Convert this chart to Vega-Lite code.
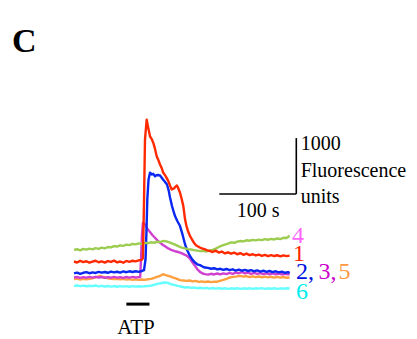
{
  "$schema": "https://vega.github.io/schema/vega-lite/v6.json",
  "width": 417,
  "height": 339,
  "autosize": {"type": "fit", "contains": "padding"},
  "padding": 0,
  "background": "white",
  "config": {"view": {"stroke": null}, "text": {"font": "'Liberation Serif', 'DejaVu Serif', serif"}},
  "datasets": {
    "traces": [
      {"c":"6","t":0,"f":934},{"c":"6","t":4,"f":940},{"c":"6","t":8,"f":928},{"c":"6","t":12,"f":938},{"c":"6","t":16,"f":926},{"c":"6","t":20,"f":936},{"c":"6","t":24,"f":930},{"c":"6","t":28,"f":940},{"c":"6","t":32,"f":925},{"c":"6","t":36,"f":934},{"c":"6","t":40,"f":922},{"c":"6","t":44,"f":932},{"c":"6","t":48,"f":920},{"c":"6","t":52,"f":930},{"c":"6","t":56,"f":918},{"c":"6","t":60,"f":928},{"c":"6","t":64,"f":920},{"c":"6","t":68,"f":930},{"c":"6","t":72,"f":918},{"c":"6","t":76,"f":928},{"c":"6","t":80,"f":920},{"c":"6","t":84,"f":926},{"c":"6","t":88,"f":920},{"c":"6","t":92,"f":928},{"c":"6","t":96,"f":932},{"c":"6","t":98.7,"f":934},{"c":"6","t":102,"f":945},{"c":"6","t":106,"f":960},{"c":"6","t":110,"f":975},{"c":"6","t":114,"f":985},{"c":"6","t":118.2,"f":995},{"c":"6","t":122,"f":985},{"c":"6","t":126,"f":965},{"c":"6","t":131.2,"f":946},{"c":"6","t":136,"f":930},{"c":"6","t":140,"f":918},{"c":"6","t":144.2,"f":905},{"c":"6","t":148,"f":910},{"c":"6","t":152,"f":898},{"c":"6","t":156,"f":905},{"c":"6","t":160,"f":892},{"c":"6","t":164,"f":900},{"c":"6","t":168,"f":888},{"c":"6","t":172,"f":898},{"c":"6","t":176,"f":885},{"c":"6","t":180,"f":895},{"c":"6","t":184,"f":884},{"c":"6","t":188,"f":894},{"c":"6","t":192,"f":882},{"c":"6","t":196,"f":892},{"c":"6","t":200,"f":880},{"c":"6","t":204,"f":890},{"c":"6","t":208,"f":882},{"c":"6","t":212,"f":892},{"c":"6","t":216,"f":880},{"c":"6","t":220,"f":890},{"c":"6","t":224,"f":882},{"c":"6","t":228,"f":892},{"c":"6","t":232,"f":880},{"c":"6","t":236,"f":890},{"c":"6","t":240,"f":884},{"c":"6","t":244,"f":894},{"c":"6","t":248,"f":880},{"c":"6","t":252,"f":890},{"c":"6","t":256,"f":882},{"c":"6","t":260,"f":892},{"c":"6","t":264,"f":880},{"c":"6","t":268,"f":890},{"c":"6","t":272,"f":884},{"c":"6","t":276,"f":892},{"c":"6","t":280,"f":886},
      {"c":"5","t":0,"f":1054},{"c":"5","t":4,"f":1062},{"c":"5","t":8,"f":1048},{"c":"5","t":12,"f":1060},{"c":"5","t":16,"f":1050},{"c":"5","t":20,"f":1058},{"c":"5","t":24,"f":1070},{"c":"5","t":28,"f":1085},{"c":"5","t":30,"f":1095},{"c":"5","t":33.8,"f":1113},{"c":"5","t":36,"f":1098},{"c":"5","t":40.3,"f":1084},{"c":"5","t":44,"f":1070},{"c":"5","t":48,"f":1062},{"c":"5","t":52,"f":1055},{"c":"5","t":56,"f":1062},{"c":"5","t":60,"f":1050},{"c":"5","t":64,"f":1058},{"c":"5","t":68,"f":1045},{"c":"5","t":72,"f":1055},{"c":"5","t":76,"f":1042},{"c":"5","t":80,"f":1050},{"c":"5","t":84,"f":1040},{"c":"5","t":88,"f":1048},{"c":"5","t":92,"f":1040},{"c":"5","t":96,"f":1052},{"c":"5","t":100,"f":1060},{"c":"5","t":104,"f":1075},{"c":"5","t":108,"f":1095},{"c":"5","t":111.7,"f":1113},{"c":"5","t":115.6,"f":1143},{"c":"5","t":118,"f":1130},{"c":"5","t":121,"f":1118},{"c":"5","t":124.7,"f":1102},{"c":"5","t":128,"f":1085},{"c":"5","t":132,"f":1068},{"c":"5","t":137.7,"f":1036},{"c":"5","t":142,"f":1030},{"c":"5","t":146,"f":1022},{"c":"5","t":150,"f":1030},{"c":"5","t":154,"f":1015},{"c":"5","t":158,"f":1022},{"c":"5","t":162,"f":1005},{"c":"5","t":166,"f":1015},{"c":"5","t":170,"f":1002},{"c":"5","t":174,"f":1012},{"c":"5","t":178,"f":1000},{"c":"5","t":182,"f":1010},{"c":"5","t":186,"f":1008},{"c":"5","t":189.6,"f":1023},{"c":"5","t":194,"f":1040},{"c":"5","t":198,"f":1060},{"c":"5","t":202.6,"f":1084},{"c":"5","t":206,"f":1095},{"c":"5","t":210,"f":1100},{"c":"5","t":215.6,"f":1113},{"c":"5","t":220,"f":1098},{"c":"5","t":224,"f":1110},{"c":"5","t":228,"f":1092},{"c":"5","t":232,"f":1105},{"c":"5","t":236,"f":1090},{"c":"5","t":240,"f":1102},{"c":"5","t":244,"f":1088},{"c":"5","t":248,"f":1100},{"c":"5","t":252,"f":1085},{"c":"5","t":256,"f":1096},{"c":"5","t":260,"f":1082},{"c":"5","t":264,"f":1094},{"c":"5","t":268,"f":1080},{"c":"5","t":272,"f":1092},{"c":"5","t":276,"f":1078},{"c":"5","t":280,"f":1084},
      {"c":"3","t":0,"f":1084},{"c":"3","t":4,"f":1092},{"c":"3","t":8,"f":1078},{"c":"3","t":12,"f":1090},{"c":"3","t":16,"f":1080},{"c":"3","t":20,"f":1094},{"c":"3","t":24,"f":1082},{"c":"3","t":28,"f":1096},{"c":"3","t":32,"f":1084},{"c":"3","t":36,"f":1092},{"c":"3","t":40,"f":1078},{"c":"3","t":44,"f":1090},{"c":"3","t":48,"f":1080},{"c":"3","t":52,"f":1094},{"c":"3","t":56,"f":1082},{"c":"3","t":60,"f":1090},{"c":"3","t":64,"f":1078},{"c":"3","t":68,"f":1092},{"c":"3","t":72,"f":1080},{"c":"3","t":76,"f":1094},{"c":"3","t":80,"f":1084},{"c":"3","t":84,"f":1090},{"c":"3","t":86,"f":1090},{"c":"3","t":87,"f":1411},{"c":"3","t":88.3,"f":1857},{"c":"3","t":89.6,"f":2066},{"c":"3","t":92.2,"f":2036},{"c":"3","t":95,"f":1960},{"c":"3","t":98.7,"f":1898},{"c":"3","t":102,"f":1840},{"c":"3","t":105.2,"f":1795},{"c":"3","t":108,"f":1750},{"c":"3","t":111.7,"f":1709},{"c":"3","t":115,"f":1670},{"c":"3","t":118.2,"f":1643},{"c":"3","t":121,"f":1615},{"c":"3","t":124.7,"f":1589},{"c":"3","t":128,"f":1570},{"c":"3","t":131.2,"f":1554},{"c":"3","t":134,"f":1545},{"c":"3","t":137.7,"f":1530},{"c":"3","t":141,"f":1510},{"c":"3","t":144,"f":1490},{"c":"3","t":146.8,"f":1470},{"c":"3","t":150.6,"f":1423},{"c":"3","t":153,"f":1370},{"c":"3","t":157.1,"f":1291},{"c":"3","t":160,"f":1235},{"c":"3","t":163.6,"f":1184},{"c":"3","t":167,"f":1155},{"c":"3","t":170.1,"f":1143},{"c":"3","t":174,"f":1135},{"c":"3","t":178,"f":1150},{"c":"3","t":182,"f":1138},{"c":"3","t":186,"f":1155},{"c":"3","t":190,"f":1140},{"c":"3","t":194,"f":1158},{"c":"3","t":198,"f":1145},{"c":"3","t":202,"f":1165},{"c":"3","t":206,"f":1150},{"c":"3","t":210,"f":1172},{"c":"3","t":214,"f":1160},{"c":"3","t":218,"f":1178},{"c":"3","t":222,"f":1158},{"c":"3","t":226,"f":1170},{"c":"3","t":230,"f":1150},{"c":"3","t":234,"f":1166},{"c":"3","t":238,"f":1148},{"c":"3","t":242,"f":1162},{"c":"3","t":246,"f":1145},{"c":"3","t":250,"f":1160},{"c":"3","t":254,"f":1142},{"c":"3","t":258,"f":1156},{"c":"3","t":262,"f":1140},{"c":"3","t":266,"f":1152},{"c":"3","t":270,"f":1138},{"c":"3","t":274,"f":1150},{"c":"3","t":278,"f":1140},{"c":"3","t":280,"f":1145},
      {"c":"2","t":0,"f":1158},{"c":"2","t":4,"f":1172},{"c":"2","t":8,"f":1150},{"c":"2","t":12,"f":1168},{"c":"2","t":16,"f":1180},{"c":"2","t":20,"f":1160},{"c":"2","t":24,"f":1175},{"c":"2","t":28,"f":1165},{"c":"2","t":32,"f":1185},{"c":"2","t":36,"f":1170},{"c":"2","t":40,"f":1182},{"c":"2","t":44,"f":1168},{"c":"2","t":48,"f":1190},{"c":"2","t":52,"f":1175},{"c":"2","t":56,"f":1186},{"c":"2","t":60,"f":1172},{"c":"2","t":64,"f":1192},{"c":"2","t":68,"f":1178},{"c":"2","t":72,"f":1195},{"c":"2","t":76,"f":1182},{"c":"2","t":80,"f":1196},{"c":"2","t":84,"f":1185},{"c":"2","t":88,"f":1200},{"c":"2","t":90.9,"f":1214},{"c":"2","t":92.9,"f":1411},{"c":"2","t":94.2,"f":1946},{"c":"2","t":95.2,"f":2482},{"c":"2","t":96.8,"f":2839},{"c":"2","t":98.7,"f":2959},{"c":"2","t":101.3,"f":2929},{"c":"2","t":103,"f":2940},{"c":"2","t":105.2,"f":2898},{"c":"2","t":107,"f":2915},{"c":"2","t":109.1,"f":2920},{"c":"2","t":111.7,"f":2911},{"c":"2","t":113.5,"f":2880},{"c":"2","t":115.6,"f":2839},{"c":"2","t":118,"f":2800},{"c":"2","t":120.8,"f":2750},{"c":"2","t":123,"f":2640},{"c":"2","t":124.7,"f":2518},{"c":"2","t":127.3,"f":2362},{"c":"2","t":129,"f":2280},{"c":"2","t":131.2,"f":2184},{"c":"2","t":134,"f":2100},{"c":"2","t":137.7,"f":2005},{"c":"2","t":141,"f":1850},{"c":"2","t":144.2,"f":1679},{"c":"2","t":147,"f":1570},{"c":"2","t":150.6,"f":1470},{"c":"2","t":154,"f":1400},{"c":"2","t":157.1,"f":1352},{"c":"2","t":160,"f":1320},{"c":"2","t":163.6,"f":1304},{"c":"2","t":167,"f":1280},{"c":"2","t":170.1,"f":1262},{"c":"2","t":174,"f":1255},{"c":"2","t":178,"f":1240},{"c":"2","t":182,"f":1250},{"c":"2","t":186,"f":1228},{"c":"2","t":190,"f":1240},{"c":"2","t":194,"f":1220},{"c":"2","t":198,"f":1236},{"c":"2","t":202,"f":1215},{"c":"2","t":206,"f":1230},{"c":"2","t":210,"f":1208},{"c":"2","t":214,"f":1225},{"c":"2","t":218,"f":1205},{"c":"2","t":222,"f":1220},{"c":"2","t":226,"f":1200},{"c":"2","t":230,"f":1215},{"c":"2","t":234,"f":1195},{"c":"2","t":238,"f":1210},{"c":"2","t":242,"f":1190},{"c":"2","t":246,"f":1205},{"c":"2","t":250,"f":1185},{"c":"2","t":254,"f":1200},{"c":"2","t":258,"f":1180},{"c":"2","t":262,"f":1195},{"c":"2","t":266,"f":1175},{"c":"2","t":270,"f":1188},{"c":"2","t":274,"f":1168},{"c":"2","t":278,"f":1180},{"c":"2","t":280,"f":1162},
      {"c":"4","t":0,"f":1577},{"c":"4","t":4,"f":1590},{"c":"4","t":8,"f":1570},{"c":"4","t":12,"f":1595},{"c":"4","t":16,"f":1582},{"c":"4","t":20,"f":1600},{"c":"4","t":24,"f":1588},{"c":"4","t":28,"f":1610},{"c":"4","t":32,"f":1596},{"c":"4","t":36,"f":1618},{"c":"4","t":40,"f":1605},{"c":"4","t":44,"f":1630},{"c":"4","t":48,"f":1622},{"c":"4","t":52,"f":1645},{"c":"4","t":56,"f":1638},{"c":"4","t":60,"f":1660},{"c":"4","t":64,"f":1650},{"c":"4","t":68,"f":1672},{"c":"4","t":72,"f":1664},{"c":"4","t":76,"f":1684},{"c":"4","t":80,"f":1676},{"c":"4","t":84,"f":1695},{"c":"4","t":88,"f":1686},{"c":"4","t":92,"f":1704},{"c":"4","t":96,"f":1698},{"c":"4","t":100,"f":1714},{"c":"4","t":104,"f":1705},{"c":"4","t":108,"f":1724},{"c":"4","t":112,"f":1718},{"c":"4","t":116,"f":1740},{"c":"4","t":120,"f":1730},{"c":"4","t":124,"f":1712},{"c":"4","t":128,"f":1690},{"c":"4","t":132,"f":1668},{"c":"4","t":136,"f":1640},{"c":"4","t":140,"f":1618},{"c":"4","t":144,"f":1605},{"c":"4","t":148,"f":1592},{"c":"4","t":152,"f":1584},{"c":"4","t":156,"f":1575},{"c":"4","t":160,"f":1566},{"c":"4","t":164,"f":1555},{"c":"4","t":168,"f":1562},{"c":"4","t":172,"f":1550},{"c":"4","t":176,"f":1565},{"c":"4","t":180,"f":1578},{"c":"4","t":184,"f":1600},{"c":"4","t":188,"f":1630},{"c":"4","t":192,"f":1655},{"c":"4","t":196,"f":1672},{"c":"4","t":200,"f":1690},{"c":"4","t":204,"f":1712},{"c":"4","t":208,"f":1705},{"c":"4","t":212,"f":1726},{"c":"4","t":216,"f":1738},{"c":"4","t":220,"f":1730},{"c":"4","t":224,"f":1750},{"c":"4","t":228,"f":1742},{"c":"4","t":232,"f":1758},{"c":"4","t":236,"f":1748},{"c":"4","t":240,"f":1762},{"c":"4","t":244,"f":1752},{"c":"4","t":248,"f":1770},{"c":"4","t":252,"f":1760},{"c":"4","t":256,"f":1775},{"c":"4","t":260,"f":1765},{"c":"4","t":264,"f":1782},{"c":"4","t":268,"f":1770},{"c":"4","t":272,"f":1795},{"c":"4","t":276,"f":1790},{"c":"4","t":280,"f":1830},
      {"c":"1","t":0,"f":1370},{"c":"1","t":4,"f":1352},{"c":"1","t":8,"f":1381},{"c":"1","t":12,"f":1360},{"c":"1","t":16,"f":1375},{"c":"1","t":20,"f":1349},{"c":"1","t":24,"f":1368},{"c":"1","t":28,"f":1384},{"c":"1","t":32,"f":1357},{"c":"1","t":36,"f":1372},{"c":"1","t":40,"f":1350},{"c":"1","t":44,"f":1378},{"c":"1","t":48,"f":1362},{"c":"1","t":52,"f":1385},{"c":"1","t":56,"f":1355},{"c":"1","t":60,"f":1370},{"c":"1","t":64,"f":1348},{"c":"1","t":68,"f":1380},{"c":"1","t":72,"f":1365},{"c":"1","t":76,"f":1384},{"c":"1","t":80,"f":1372},{"c":"1","t":84,"f":1390},{"c":"1","t":88,"f":1400},{"c":"1","t":89.5,"f":1430},{"c":"1","t":91,"f":2500},{"c":"1","t":92.2,"f":3554},{"c":"1","t":94.4,"f":3911},{"c":"1","t":96.1,"f":3786},{"c":"1","t":98.7,"f":3612},{"c":"1","t":101,"f":3560},{"c":"1","t":103,"f":3495},{"c":"1","t":105,"f":3400},{"c":"1","t":107.4,"f":3255},{"c":"1","t":109.5,"f":3190},{"c":"1","t":111.7,"f":3107},{"c":"1","t":114,"f":3040},{"c":"1","t":116,"f":2959},{"c":"1","t":119,"f":2900},{"c":"1","t":122.5,"f":2809},{"c":"1","t":125,"f":2720},{"c":"1","t":126.9,"f":2661},{"c":"1","t":129.9,"f":2679},{"c":"1","t":133.4,"f":2732},{"c":"1","t":135,"f":2696},{"c":"1","t":137.7,"f":2602},{"c":"1","t":140,"f":2480},{"c":"1","t":142,"f":2362},{"c":"1","t":144.2,"f":2125},{"c":"1","t":146,"f":2010},{"c":"1","t":148.1,"f":1911},{"c":"1","t":150.5,"f":1830},{"c":"1","t":153.2,"f":1768},{"c":"1","t":156,"f":1700},{"c":"1","t":158.4,"f":1661},{"c":"1","t":161,"f":1640},{"c":"1","t":163.6,"f":1620},{"c":"1","t":167,"f":1600},{"c":"1","t":170.1,"f":1589},{"c":"1","t":173,"f":1570},{"c":"1","t":176.6,"f":1559},{"c":"1","t":180,"f":1540},{"c":"1","t":184,"f":1565},{"c":"1","t":188,"f":1530},{"c":"1","t":192,"f":1548},{"c":"1","t":196,"f":1515},{"c":"1","t":200,"f":1535},{"c":"1","t":204,"f":1510},{"c":"1","t":208,"f":1528},{"c":"1","t":212,"f":1500},{"c":"1","t":216,"f":1520},{"c":"1","t":220,"f":1490},{"c":"1","t":224,"f":1512},{"c":"1","t":228,"f":1484},{"c":"1","t":232,"f":1500},{"c":"1","t":236,"f":1478},{"c":"1","t":240,"f":1495},{"c":"1","t":244,"f":1470},{"c":"1","t":248,"f":1488},{"c":"1","t":252,"f":1465},{"c":"1","t":256,"f":1485},{"c":"1","t":260,"f":1468},{"c":"1","t":264,"f":1482},{"c":"1","t":268,"f":1462},{"c":"1","t":272,"f":1480},{"c":"1","t":276,"f":1466},{"c":"1","t":280,"f":1476}
    ],
    "scalebars": [
      {"bar":"time","t":188.7,"t2":288.7,"f":2580,"f2":2580},
      {"bar":"fluorescence","t":288.7,"t2":288.7,"f":2580,"f2":3580}
    ],
    "stimulus": [
      {"name":"ATP","t":68,"t2":98,"f":607,"f2":607}
    ],
    "tracelabels": [
      {"c":"4","label":"4","t":283.1,"f":1696},
      {"c":"1","label":"1","t":284.4,"f":1380},
      {"c":"2","label":"2,","t":288.3,"f":1054},
      {"c":"3","label":"3,","t":317.5,"f":1054},
      {"c":"5","label":"5","t":343.5,"f":1054},
      {"c":"6","label":"6","t":288.3,"f":696}
    ],
    "scaletexts": [
      {"label":"1000","t":294.4,"f":3362},
      {"label":"Fluorescence","t":294.4,"f":2888},
      {"label":"units","t":294.4,"f":2411}
    ],
    "timetext": [
      {"label":"100 s","t":239,"f":2170}
    ],
    "panel": [
      {"label":"C","t":-80.5,"f":5125}
    ],
    "atptext": [
      {"label":"ATP","t":80.5,"f":71}
    ]
  },
  "layer": [
    {
      "data": {"name": "traces"},
      "mark": {"type": "line", "strokeWidth": 2.4, "strokeJoin": "round"},
      "encoding": {
        "x": {"field": "t", "type": "quantitative", "scale": {"domain": [-96.1, 445.45], "nice": false, "zero": false}, "axis": null},
        "y": {"field": "f", "type": "quantitative", "scale": {"domain": [0, 6053.6], "nice": false, "zero": false}, "axis": null},
        "color": {"field": "c", "type": "nominal", "scale": {"domain": ["6","5","3","2","4","1"], "range": ["#66ffff","#ffa040","#d040d0","#0a28f0","#9ccc50","#ff2a00"]}, "legend": null, "sort": null}
      }
    },
    {
      "data": {"name": "scalebars"},
      "mark": {"type": "rule", "color": "black", "strokeWidth": 1.6},
      "encoding": {
        "x": {"field": "t", "type": "quantitative"},
        "x2": {"field": "t2"},
        "y": {"field": "f", "type": "quantitative"},
        "y2": {"field": "f2"}
      }
    },
    {
      "data": {"name": "stimulus"},
      "mark": {"type": "rule", "color": "black", "strokeWidth": 3},
      "encoding": {
        "x": {"field": "t", "type": "quantitative"},
        "x2": {"field": "t2"},
        "y": {"field": "f", "type": "quantitative"},
        "y2": {"field": "f2"}
      }
    },
    {
      "data": {"name": "tracelabels"},
      "mark": {"type": "text", "align": "left", "baseline": "alphabetic", "fontSize": 24},
      "encoding": {
        "x": {"field": "t", "type": "quantitative"},
        "y": {"field": "f", "type": "quantitative"},
        "text": {"field": "label"},
        "fill": {"field": "c", "type": "nominal", "scale": {"domain": ["4","1","2","3","5","6"], "range": ["#ff66ff","#ff2200","#0010e0","#cc00cc","#ff9944","#00eeee"]}, "legend": null}
      }
    },
    {
      "data": {"name": "scaletexts"},
      "mark": {"type": "text", "align": "left", "baseline": "alphabetic", "fontSize": 20, "color": "black"},
      "encoding": {
        "x": {"field": "t", "type": "quantitative"},
        "y": {"field": "f", "type": "quantitative"},
        "text": {"field": "label"}
      }
    },
    {
      "data": {"name": "timetext"},
      "mark": {"type": "text", "align": "center", "baseline": "alphabetic", "fontSize": 20, "color": "black"},
      "encoding": {
        "x": {"field": "t", "type": "quantitative"},
        "y": {"field": "f", "type": "quantitative"},
        "text": {"field": "label"}
      }
    },
    {
      "data": {"name": "panel"},
      "mark": {"type": "text", "align": "left", "baseline": "alphabetic", "fontSize": 34, "fontWeight": "bold", "color": "black"},
      "encoding": {
        "x": {"field": "t", "type": "quantitative"},
        "y": {"field": "f", "type": "quantitative"},
        "text": {"field": "label"}
      }
    },
    {
      "data": {"name": "atptext"},
      "mark": {"type": "text", "align": "center", "baseline": "alphabetic", "fontSize": 21, "color": "black"},
      "encoding": {
        "x": {"field": "t", "type": "quantitative"},
        "y": {"field": "f", "type": "quantitative"},
        "text": {"field": "label"}
      }
    }
  ]
}
